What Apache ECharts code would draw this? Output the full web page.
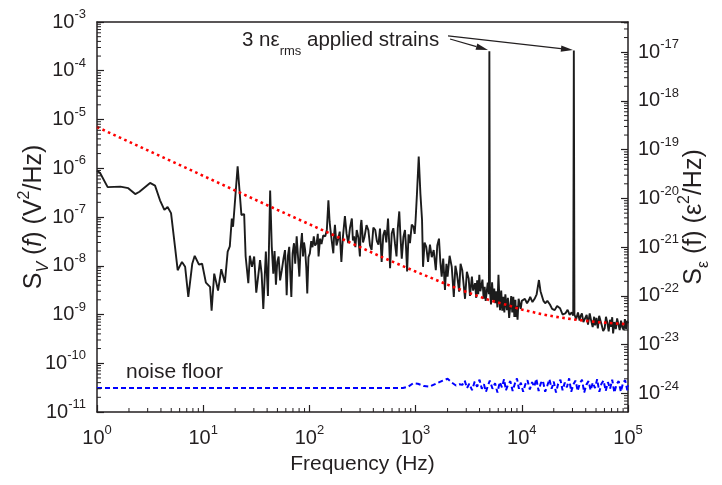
<!DOCTYPE html>
<html><head><meta charset="utf-8">
<script src="https://cdn.jsdelivr.net/npm/echarts@6.0.0/dist/echarts.min.js"></script>
<style>html,body{margin:0;padding:0;background:#fff}#c{width:722px;height:485px}</style>
</head><body><div id="c"></div>
<script>
// ---------- data: [frequency Hz, PSD V^2/Hz] ----------
const signalPoints = [
 [1.0,9e-7],[1.07,8e-7],[1.26,4.1e-7],[1.66,4.2e-7],[1.97,3.9e-7],[2.29,2.95e-7],[2.51,3.3e-7],[3.16,5e-7],[3.52,4.4e-7],
 [3.92,2.2e-7],[4.31,1.4e-7],[4.62,1.6e-7],[4.98,1.2e-7],[5.42,2.5e-8],[5.75,8.1e-9],[6.31,1.2e-8],[6.76,9.5e-9],[7.24,2.3e-9],
 [7.89,1.1e-8],[8.32,1.6e-8],[9.12,1.05e-8],[9.77,1.1e-8],[10.6,4.5e-9],[11.6,3.7e-9],[12.0,1.2e-9],[12.7,6.9e-9],[13.8,3.1e-9],
 [14.8,8.5e-9],[16.0,4.5e-9],[17.0,1.95e-8],[17.8,2.5e-8],[18.6,9.3e-8],[19.1,6.3e-8],[21.1,1.1e-6],[22.9,1.1e-7],[24.3,1.15e-7],
 [25.1,1.55e-8],[26.6,4.4e-9],[27.5,1.6e-8],[28.8,9.5e-9],[30.2,1.55e-8],[31.6,2.8e-9],[34.3,1.3e-8],[35.5,6.9e-9],[36.8,1.3e-9],
 [38.9,1.95e-8],[40.7,2.4e-9],[42.7,3.5e-7],[44.2,2.5e-8],
 [45.7,6.9e-9],[47.0,2.0e-8],[48.4,4.1e-9],[49.8,1.2e-8],[51.3,1.55e-8],[53.0,5.0e-9],[55.0,8.1e-9],[57.0,1.4e-8],[58.9,2.1e-8],
 [60.0,9e-9],[61.1,2.5e-9],[62.8,1.6e-8],[64.6,2.45e-8],[66.0,7e-9],[67.6,2.3e-9],[69.5,1.8e-8],[71.6,2.9e-8],[73.5,1.1e-8],
 [75.9,4e-8],[78.0,1.6e-8],[80.4,6e-9],[82.5,2.2e-8],[85.1,4.7e-8],[87.1,1.55e-8],[89.0,3.0e-8],[91.2,2.1e-8],[93.5,9e-9],
 [95.5,2.7e-9],[98.0,1.5e-8],[101,1.8e-8],[104,3.2e-8],[107,2.4e-8],[110,4e-8],[113,2.6e-8],[117,2.9e-8],[120,4.5e-8],
 [122,1.55e-8],[126,3.6e-8],[130,2.8e-8],[135,4.2e-8],[141,4e-8],[146,5.5e-8],[151,2.2e-7],[155,8e-8],[158,5.4e-8],
 [163,3.0e-8],[168,1.8e-8],[171,4.4e-8],[174,6.9e-8],[180,2.6e-8],[186,3.4e-8],[193,5.0e-8],[200,1.2e-8],[207,4.0e-8],
 [216,1.05e-7],[224,4.5e-8],[232,2.9e-8],[241,6.0e-8],[251,9.3e-8],[257,3.3e-8],[263,4e-8],[271,2.4e-8],[279,5.4e-8],
 [289,3.8e-8],[299,1.55e-8],[304,6.5e-8],[309,8.7e-8],[320,3.0e-8],[331,4e-8],[345,6.8e-8],[359,5.4e-8],[372,2.6e-8],
 [385,2.1e-8],[400,6.1e-8],[417,5.4e-8],[432,3.2e-8],[447,2.7e-8],[462,5.8e-8],[479,1.2e-8],[496,4.2e-8],[513,5.4e-8],
 [530,3.0e-8],[550,9.3e-8],[562,3.5e-8],[575,8.9e-9],[596,4.6e-8],[617,5.9e-8],[640,2.8e-8],[661,1.55e-8],[680,6.0e-8],
 [702,1.3e-7],[720,4.0e-8],[741,1.4e-8],[768,3.9e-8],[794,5.4e-8],[812,2.5e-8],[832,7.6e-9],[858,4.4e-8],[885,2.9e-8],
 [920,7.0e-8],[955,6.3e-8],[980,4.5e-8],[1000,8.7e-8],[1030,3e-7],[1070,1.74e-6],[1110,3e-7],[1150,8.7e-8],[1175,9.5e-9],
 [1215,3.0e-8],[1260,2.45e-8],[1310,1.2e-8],[1365,2.7e-8],[1420,1.5e-8],[1480,2.1e-8],[1550,8.1e-9],[1600,2.6e-8],[1660,3.6e-8],
 [1710,1.2e-8],[1760,6e-9],[1820,1.4e-8],[1890,3.2e-9],[1950,1.1e-8],[2000,6e-9],[2090,1.6e-8],[2190,9.5e-9],[2290,2.3e-9],
 [2370,1.0e-8],[2450,6.9e-9],[2570,2.95e-9],[2650,1.1e-8],[2750,8.1e-9],[2920,2.1e-9],[3040,7.5e-9],
 [3160,5.5e-9],[3250,2.4e-9],[3390,6e-9],[3480,3.1e-9],[3630,4.4e-9],[3720,2.2e-9],[3800,5.0e-9],[3890,2.6e-9],[3980,6.5e-9],
 [4070,3.0e-9],[4170,2.75e-9],[4260,5.2e-9],[4370,2.1e-9],[4470,3.7e-9],[4570,1.9e-9],[4680,2.0e-9],[4780,4.5e-9],[4900,2.6e-9],
 [4950,2.5e-4],[5010,3.2e-9],[5130,1.6e-9],[5250,4.6e-9],[5370,2.0e-9],[5500,3.4e-9],[5620,1.7e-9],[5750,3.0e-9],[5890,1.4e-9],
 [6030,6.5e-9],[6160,1.9e-9],[6240,1.23e-9],[6400,3.1e-9],[6550,1.2e-9],[6700,2.3e-9],[6850,1.1e-9],[7000,2.6e-9],[7240,1.23e-9],
 [7400,2.2e-9],[7600,8.5e-10],[7760,7.8e-10],[7950,2.4e-9],[8130,1.1e-9],[8320,2.3e-9],[8510,8.9e-10],[8710,2.0e-9],[8810,8.9e-10],
 [8910,1.5e-9],[9120,7.8e-10],[9330,2.1e-9],[9550,2.3e-9],[9770,1.3e-9],[10000,1.9e-9],
 [10200,1.8e-9],[10700,2.1e-9],[11200,1.7e-9],[11700,2.0e-9],[12000,2.3e-9],[12600,1.8e-9],[13200,2.1e-9],[13800,2.6e-9],
 [14500,5.1e-9],[15000,3.0e-9],[15500,2.75e-9],[16000,1.9e-9],[16600,1.7e-9],[17400,1.9e-9],[18400,1.6e-9],[19300,1.3e-9],
 [20400,1.23e-9],[21500,1.5e-9],[22900,1.35e-9],[24200,1.0e-9],[25700,1.05e-9],[27000,1.25e-9],[28200,9.8e-10],[29500,1.1e-9],
 [30500,9.5e-10],[30900,2.6e-4],[31300,1.0e-9],
 [32500,8.0e-10],[33800,1.1e-9],[35000,7.5e-10],[35500,8.9e-10],[36800,1.05e-9],[38000,7.0e-10],[39400,7.1e-10],[40800,9.8e-10],
 [42000,6.2e-10],[43600,1.05e-9],[45000,7.5e-10],[46500,5.5e-10],[48000,9e-10],[49000,6e-10],[50500,8.5e-10],[52000,5.2e-10],
 [53500,9.4e-10],[55000,8.9e-10],[56600,6.0e-10],[58400,4.6e-10],[60300,5.2e-10],[62000,9.0e-10],[64000,6.6e-10],[65800,4.5e-10],
 [67600,7.8e-10],[69500,5.6e-10],[71000,8.8e-10],[72400,4.1e-10],[74500,7.0e-10],[76800,5.0e-10],[79000,8.3e-10],[81300,7.8e-10],
 [83500,4.8e-10],[86000,7.5e-10],[88500,5.4e-10],[91200,4.8e-10],[93500,8.0e-10],[96000,5.0e-10],[98000,7.4e-10],[100000,6.6e-10]
];
const fitPoints = [[1,7e-6],[2,3.5e-6],[5,1.4e-6],[10,7e-7],[20,3.5e-7],[50,1.4e-7],[100,7.1e-8],[200,3.6e-8],[500,1.45e-8],
 [1000,7.6e-9],[2000,4.1e-9],[3000,2.9e-9],[5000,1.96e-9],[7000,1.6e-9],[10000,1.26e-9],[15000,1.03e-9],[20000,9.1e-10],
 [30000,8e-10],[50000,7e-10],[100000,6.3e-10]];
const noisePoints = [[1,3.1e-11],[760,3.1e-11],[850,3.3e-11],[950,3.9e-11],[1050,3.8e-11],[1200,3.4e-11],[1350,3.3e-11],
 [1550,3.8e-11],[1800,4.4e-11],[2000,4.8e-11],[2200,4.0e-11],[2400,3.5e-11],[2600,3.7e-11],
 [2750,3.6e-11],[2900,4.4e-11],[3050,3.1e-11],[3200,3.8e-11],[3400,2.8e-11],[3600,4.2e-11],[3800,3.3e-11],[4000,4.6e-11],
 [4200,3.0e-11],[4400,3.7e-11],[4600,2.6e-11],[4800,3.5e-11],[5000,4.4e-11],[5300,3.0e-11],[5600,3.9e-11],[5900,2.5e-11],
 [6200,4.1e-11],[6500,3.2e-11],[6800,4.7e-11],[7100,2.8e-11],[7400,3.6e-11],[7800,4.3e-11],[8200,2.7e-11],[8600,3.8e-11],
 [9000,4.9e-11],[9400,3.0e-11],[9800,4.0e-11],[10300,2.6e-11],[10800,3.7e-11],[11300,4.5e-11],[11900,2.9e-11],[12500,4.1e-11],
 [13100,3.3e-11],[13700,4.8e-11],[14400,2.7e-11],[15100,3.9e-11],[15800,4.4e-11],[16600,2.6e-11],[17400,3.5e-11],[18200,4.7e-11],
 [19100,3.0e-11],[20000,4.2e-11],[21000,2.5e-11],[22000,3.8e-11],[23100,4.6e-11],[24200,2.8e-11],[25400,4.0e-11],[26600,3.2e-11],
 [27900,4.9e-11],[29200,2.6e-11],[30600,3.7e-11],[32100,4.4e-11],[33600,2.7e-11],[35200,3.9e-11],[36900,4.6e-11],[38700,2.5e-11],
 [40500,3.6e-11],[42500,4.3e-11],[44500,2.8e-11],[46600,4.0e-11],[48900,3.1e-11],[51200,4.7e-11],[53700,2.6e-11],[56200,3.8e-11],
 [58900,4.4e-11],[61700,2.7e-11],[64700,4.1e-11],[67800,3.0e-11],[71000,4.6e-11],[74400,2.5e-11],[78000,3.7e-11],[81700,4.3e-11],
 [85600,2.6e-11],[89700,3.9e-11],[94000,4.5e-11],[98500,2.8e-11],[100000,3.5e-11]];
// annotation arrows: [freq start, value start, freq end, value end]
const arrowLines = [[2110,4.5e-4,4800,2.67e-4],[2020,5.2e-4,30300,2.67e-4]];
// axis ranges
const xRange = [1, 1e5];
const leftRange = [1e-11, 1e-3];
const rightExpRange = [-24.38, -16.38];

// ---------- helpers ----------
const FONT = '"Liberation Sans", Arial, Helvetica, sans-serif';
const INK = '#231f20';
function powLabel(v) {
  if (!(v > 0)) return '';
  const e = Math.log10(v), r = Math.round(e);
  if (!isFinite(e) || Math.abs(e - r) > 1e-6) return '';
  return '{b|10}{s|' + r + '}';
}
const tickRich = {
  b: {fontSize: 20, lineHeight: 28, fontFamily: FONT, color: INK},
  s: {fontSize: 13, lineHeight: 13, verticalAlign: 'top', fontFamily: FONT, color: INK}
};
function minorVals(e0, e1) {
  const out = [];
  for (let n = Math.floor(e0); n <= Math.ceil(e1); n++)
    for (let k = 2; k <= 9; k++) {
      const v = k * Math.pow(10, n), lv = Math.log10(v);
      if (lv > e0 && lv < e1) out.push(v);
    }
  return out;
}
const nameRich = {
  a: {fontSize: 25, lineHeight: 35, fontFamily: FONT, color: INK},
  i: {fontSize: 25, lineHeight: 35, fontStyle: 'italic', fontFamily: FONT, color: INK},
  sub: {fontSize: 16, lineHeight: 16, verticalAlign: 'bottom', fontFamily: FONT, color: INK},
  subi: {fontSize: 16, lineHeight: 16, verticalAlign: 'bottom', fontStyle: 'italic', fontFamily: FONT, color: INK},
  sup: {fontSize: 16, lineHeight: 14, verticalAlign: 'top', fontFamily: FONT, color: INK}
};
const MINOR = 4;
function tickSeries(side, data, yIdx) {
  return {
    type: 'custom', xAxisIndex: 0, yAxisIndex: yIdx, silent: true, clip: false, z: 10,
    data: data,
    renderItem: function (params, api) {
      const p = api.coord([api.value(0), api.value(1)]);
      let s;
      if (side === 'bottom') s = {x1: p[0], y1: p[1], x2: p[0], y2: p[1] - MINOR};
      else if (side === 'left') s = {x1: p[0], y1: p[1], x2: p[0] + MINOR, y2: p[1]};
      else s = {x1: p[0], y1: p[1], x2: p[0] - MINOR, y2: p[1]};
      return {type: 'line', shape: s, style: {stroke: INK, lineWidth: 1}};
    }
  };
}
function axisBase() {
  return {
    axisLine: {show: true, onZero: false, lineStyle: {color: INK, width: 1.5}},
    axisTick: {show: true, inside: true, length: 7, lineStyle: {color: INK, width: 1.2}},
    splitLine: {show: false}, minorTick: {show: false}
  };
}

const chart = echarts.init(document.getElementById('c'));
chart.setOption({
  animation: false,
  backgroundColor: '#fff',
  grid: {left: 97, right: 94, top: 22, bottom: 73, containLabel: false, outerBoundsMode: 'none'},
  xAxis: [
    Object.assign(axisBase(), {
      type: 'log', logBase: 10, min: xRange[0], max: xRange[1], position: 'bottom',
      axisLabel: {formatter: powLabel, margin: 12, rich: tickRich},
      name: 'Frequency (Hz)', nameLocation: 'middle', nameGap: 42, nameMoveOverlap: false,
      nameTextStyle: {fontSize: 21, fontFamily: FONT, color: INK}
    }),
    Object.assign(axisBase(), {
      type: 'log', logBase: 10, min: xRange[0], max: xRange[1], position: 'top',
      axisTick: {show: false}, axisLabel: {show: false}
    })
  ],
  yAxis: [
    Object.assign(axisBase(), {
      type: 'log', logBase: 10, min: leftRange[0], max: leftRange[1], position: 'left',
      axisLabel: {formatter: powLabel, margin: 11, rich: tickRich},
      name: '{a|S}{subi|V}{a| (}{i|f}{a|) (V}{sup|2}{a|/Hz)}', nameLocation: 'middle', nameGap: 45,
      nameRotate: 90, nameMoveOverlap: false,
      nameTextStyle: {rich: nameRich, fontFamily: FONT, color: INK}
    }),
    Object.assign(axisBase(), {
      type: 'log', logBase: 10, min: Math.pow(10, rightExpRange[0]), max: Math.pow(10, rightExpRange[1]), position: 'right',
      axisLabel: {formatter: powLabel, margin: 10, rich: tickRich},
      name: '{a|S}{sub|ε}{a| (f) (ε}{sup|2}{a|/Hz)}', nameLocation: 'middle', nameGap: 49,
      nameRotate: 90, nameMoveOverlap: false,
      nameTextStyle: {rich: nameRich, fontFamily: FONT, color: INK}
    })
  ],
  series: [
    {type: 'line', name: 'noise', data: noisePoints, showSymbol: false, z: 2,
     lineStyle: {color: '#0000ff', width: 2, type: [5, 3]}},
    {type: 'line', name: 'signal', data: signalPoints, showSymbol: false, z: 3,
     lineStyle: {color: '#1c1c1c', width: 1.9}},
    {type: 'line', name: 'fit', data: fitPoints, showSymbol: false, z: 4,
     lineStyle: {color: '#ff0000', width: 2.6, type: [2.6, 3.4]}},
    tickSeries('bottom', minorVals(0, 5).map(v => [v, leftRange[0]]), 0),
    tickSeries('left', minorVals(-11, -3).map(v => [xRange[0], v]), 0),
    tickSeries('right', minorVals(rightExpRange[0], rightExpRange[1]).map(v => [xRange[1], v]), 1),
    {type: 'custom', xAxisIndex: 0, yAxisIndex: 0, silent: true, clip: false, z: 11,
     data: arrowLines,
     renderItem: function (params, api) {
       const p1 = api.coord([api.value(0), api.value(1)]);
       const p2 = api.coord([api.value(2), api.value(3)]);
       const dx = p2[0] - p1[0], dy = p2[1] - p1[1], L = Math.hypot(dx, dy);
       const ux = dx / L, uy = dy / L, hl = 12, hw = 3.2;
       const bx = p2[0] - ux * hl, by = p2[1] - uy * hl;
       return {type: 'group', children: [
         {type: 'line', shape: {x1: p1[0], y1: p1[1], x2: bx, y2: by}, style: {stroke: INK, lineWidth: 1.1}},
         {type: 'polygon', shape: {points: [[p2[0], p2[1]], [bx - uy * hw, by + ux * hw], [bx + uy * hw, by - ux * hw]]},
          style: {fill: INK}}
       ]};
     }}
  ],
  graphic: [
    {type: 'text', x: 242, y: 29.5, z: 20, silent: true,
     style: {text: '{a|3 nε}{s|rms}{a| applied strains}', align: 'left', verticalAlign: 'top',
       rich: {a: {fontSize: 20.5, lineHeight: 22, verticalAlign: 'top', fontFamily: FONT, fill: INK, color: INK},
              s: {fontSize: 13, lineHeight: 13, verticalAlign: 'top', padding: [15, 0, 0, 0], fontFamily: FONT, fill: INK, color: INK}}}},
    {type: 'text', x: 126, y: 372, z: 20, silent: true,
     style: {text: 'noise floor', fontSize: 21, fontFamily: FONT, fill: INK, align: 'left', verticalAlign: 'middle'}}
  ]
});
</script></body></html>
